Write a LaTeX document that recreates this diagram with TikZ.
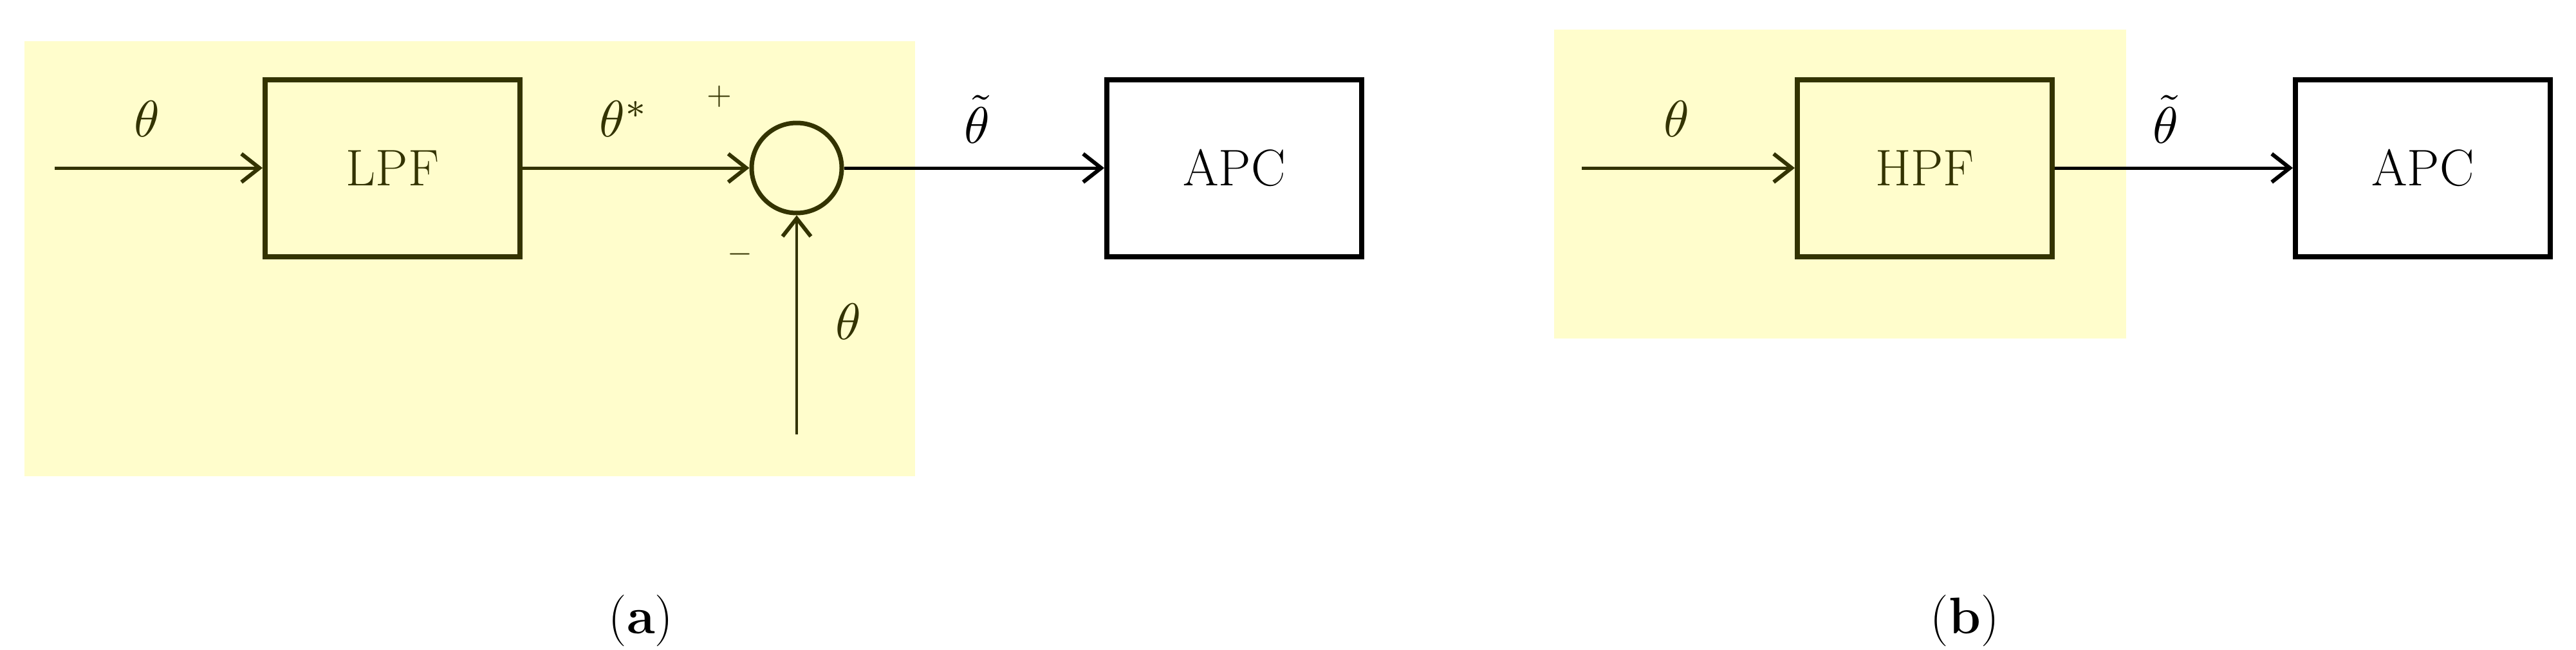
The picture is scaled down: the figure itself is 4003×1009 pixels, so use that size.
\documentclass[tikz,border=0pt]{standalone}
\usetikzlibrary{arrows.meta}
\definecolor{bg}{HTML}{FFFDCC}
\definecolor{ol}{HTML}{333300}
\begin{document}
\begin{tikzpicture}[x=1pt,y=-1pt,
  blk/.style={draw,line width=8pt,minimum width=396pt,minimum height=275pt,font=\fontsize{80}{96}\selectfont},
  arr/.style={-{Straight Barb[length=28pt,width=44pt,line width=6pt]},line width=5pt},
  lab/.style={scale=8},
  sml/.style={scale=5}]
\useasboundingbox (0,0) rectangle (4003,1009);
\fill[bg] (38,64) rectangle (1422,740);
\fill[bg] (2415,46) rectangle (3304,526);
\begin{scope}[ol]
\node[blk,draw=ol,text=ol] (lpf) at (610,261) {LPF};
\node[draw=ol,line width=7pt,circle,minimum size=140pt] (sum) at (1238,261) {};
\coordinate (in1) at (85,261);
\coordinate (bot) at (1238,675);
\draw[arr,draw=ol] (in1) -- (lpf);
\draw[arr,draw=ol] (lpf) -- (sum);
\draw[arr,draw=ol,line width=4pt] (bot) -- (sum);
\node[lab,text=ol] (t1) at (228,185) {$\theta$};
\node[lab,text=ol] (ts) at (970,185) {$\theta^{*}$};
\node[sml,text=ol] (pl) at (1118,150) {+};
\node[sml,text=ol] (mi) at (1150,395) {$-$};
\node[lab,text=ol] (t2) at (1318,500) {$\theta$};
\node[blk,draw=ol,text=ol] (hpf) at (2991,261) {HPF};
\coordinate (in2) at (2458,261);
\draw[arr,draw=ol] (in2) -- (hpf);
\node[lab,text=ol] (t3) at (2605,185) {$\theta$};
\end{scope}
\node[blk] (apc1) at (1918,261) {APC};
\node[blk] (apc2) at (3765,261) {APC};
\draw[arr] (sum) -- (apc1);
\draw[arr] (hpf) -- (apc2);
\node[lab] (tt1) at (1518,185) {$\tilde{\theta}$};
\node[lab] (tt2) at (3365,185) {$\tilde{\theta}$};
\node[blk,draw=none] (ca) at (996,965) {(\textbf{a})};
\node[blk,draw=none] (cb) at (3053,965) {(\textbf{b})};
\end{tikzpicture}
\end{document}
